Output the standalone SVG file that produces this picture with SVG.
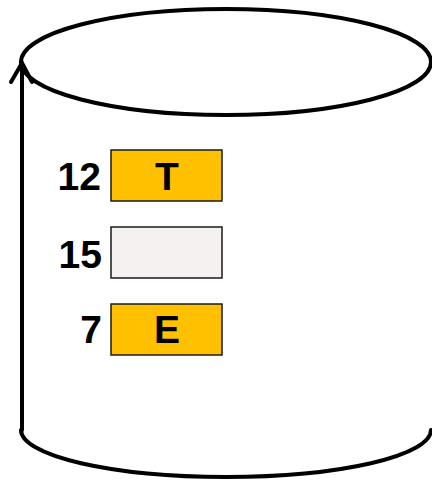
<svg xmlns="http://www.w3.org/2000/svg" width="432" height="480" viewBox="0 0 432 480">
<style>
.line{fill:none;stroke:#000;stroke-width:4;stroke-linecap:round;stroke-linejoin:round}
.box{stroke:#1a1a1a;stroke-width:1.5}
.num{font-family:"Liberation Sans",Arial,sans-serif;font-weight:bold;font-size:39px;fill:#000;text-anchor:end}
.lbl{font-family:"Liberation Sans",Arial,sans-serif;font-weight:bold;font-size:39px;fill:#000;text-anchor:middle}
</style>
<rect width="432" height="480" fill="#fff"/>
<g id="cylinder">
<ellipse class="line" cx="226" cy="62" rx="205" ry="53"/>
<path class="line" d="M431,430 A205,47 0 0 1 21,430"/>
</g>
<g id="connectors">
<path class="line" d="M22,430 L22,63"/>
<path class="line" d="M11,82 L22,63 L32,82"/>
</g>
<g id="node-12">
<rect class="box" x="111" y="150" width="111" height="51" fill="#FFC000"/>
<text class="num" x="101" y="190">12</text>
<text class="lbl" x="167" y="190">T</text>
</g>
<g id="node-15">
<rect class="box" x="111" y="227" width="111" height="51" fill="#F4F1F0"/>
<text class="num" x="102" y="268">15</text>
</g>
<g id="node-7">
<rect class="box" x="111" y="304" width="111" height="51" fill="#FFC000"/>
<text class="num" x="102" y="343">7</text>
<text class="lbl" x="167" y="343">E</text>
</g>
</svg>
